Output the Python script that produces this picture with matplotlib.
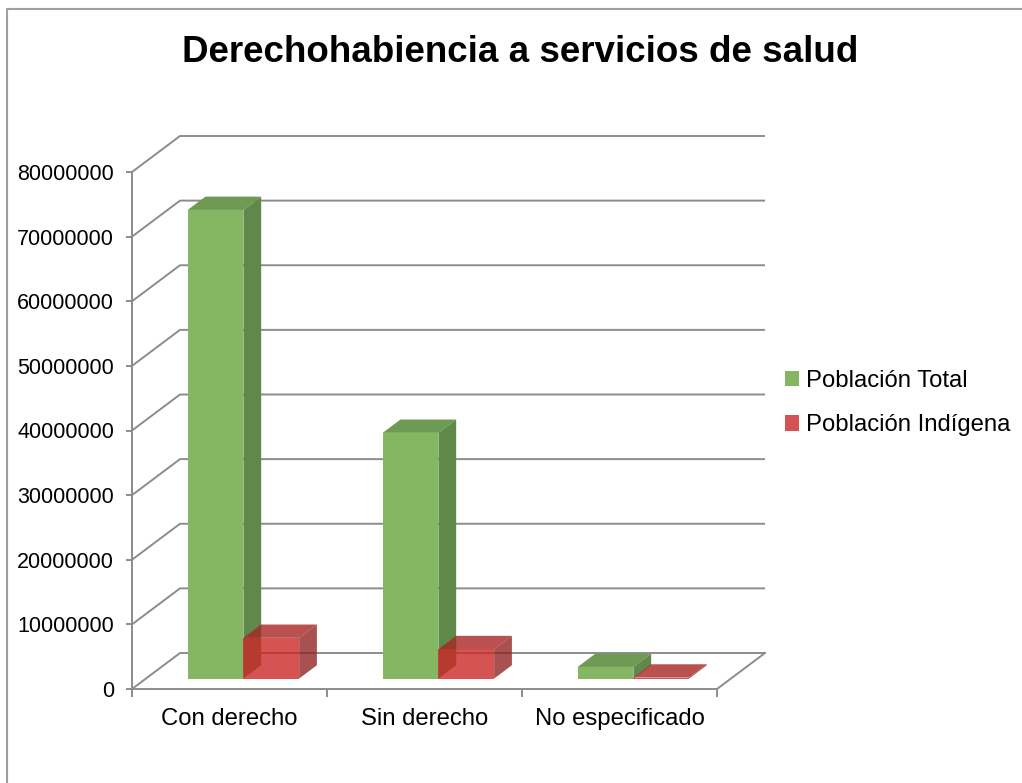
import matplotlib
matplotlib.use('Agg')
import matplotlib.pyplot as plt
from matplotlib.patches import Polygon, Patch
from matplotlib.lines import Line2D

plt.rcParams['font.family'] = ['Liberation Sans', 'DejaVu Sans']

# datos (censo 2010)
categorias = ['Con derecho', 'Sin derecho', 'No especificado']
series = ['Población Total', 'Población Indígena']
poblacion_total = [72514513, 38020372, 1801453]
poblacion_indigena = [6300000, 4550000, 150000]
y_ticks = [0, 10000000, 20000000, 30000000, 40000000,
           50000000, 60000000, 70000000, 80000000]
titulo = 'Derechohabiencia a servicios de salud'

# colores de cada cara (frente, arriba, lado)
verde = ['#85B763', '#6E9A53', '#60884A']
rojo = ['#CC2828', '#A82626', '#912626']
gris = '#8C8C8C'

W, H = 1022, 783
fig = plt.figure(figsize=(W / 100, H / 100), dpi=100)

# plano frontal de la caja 3d (pixeles)
izq, abajo, der, arriba = 132, 689, 717, 172
ax = fig.add_axes([izq / W, 1 - abajo / H, (der - izq) / W, (abajo - arriba) / H])
n = len(categorias)
ax.set_xlim(0, n)
ax.set_ylim(0, y_ticks[-1])

# desplazamiento de profundidad: 48 px a la derecha, 36 px hacia arriba
ddx = 48 / ((der - izq) / n)
ddy = 36 * y_ticks[-1] / (abajo - arriba)


def proj(x, y, d):
    return (x + d * ddx, y + d * ddy)


# lineas de cuadricula en pared izquierda y del fondo
for v in y_ticks:
    pts = [proj(0, v, 0), proj(0, v, 1), proj(n, v, 1)]
    ax.plot([p[0] for p in pts], [p[1] for p in pts], color=gris, lw=1.4,
            clip_on=False, zorder=1, solid_capstyle='butt')
# borde derecho del piso
pts = [proj(n, 0, 0), proj(n, 0, 1)]
ax.plot([p[0] for p in pts], [p[1] for p in pts], color=gris, lw=1.4,
        clip_on=False, zorder=1)

# barras 3d
ancho = 1 / 3.5
d0, d1 = 0.29, 0.66
for i in range(n):
    for s, (vals, cols, alfa) in enumerate([(poblacion_total, verde, 1.0),
                                             (poblacion_indigena, rojo, 0.8)]):
        v = vals[i]
        x0 = i + (0.75 + s) * ancho
        x1 = x0 + ancho
        caras = [
            ([(x0, v, d0), (x1, v, d0), (x1, v, d1), (x0, v, d1)], cols[1]),  # arriba
            ([(x1, 0, d0), (x1, 0, d1), (x1, v, d1), (x1, v, d0)], cols[2]),  # lado
            ([(x0, 0, d0), (x1, 0, d0), (x1, v, d0), (x0, v, d0)], cols[0]),  # frente
        ]
        for verts, c in caras:
            poly = Polygon([proj(*p) for p in verts], closed=True, facecolor=c,
                           edgecolor='none', alpha=alfa, clip_on=False, zorder=3)
            ax.add_patch(poly)

# ejes
for lado in ['top', 'right']:
    ax.spines[lado].set_visible(False)
for lado in ['left', 'bottom']:
    ax.spines[lado].set_color(gris)
    ax.spines[lado].set_linewidth(1.4)
ax.set_facecolor('none')
ax.set_yticks(y_ticks)
ax.set_yticklabels([str(t) for t in y_ticks])
ax.tick_params(axis='y', length=4, width=1.4, color=gris, pad=9, labelsize=15.5)
ax.set_xticks(range(n + 1))
ax.set_xticklabels([])
ax.tick_params(axis='x', which='major', length=6, width=1.4, color=gris)
ax.set_xticks([i + 0.5 for i in range(n)], minor=True)
ax.set_xticklabels(categorias, minor=True)
ax.tick_params(axis='x', which='minor', length=0, pad=14, labelsize=17.2)

# titulo
fig.text(520 / W, 1 - 53 / H, titulo, ha='center', va='center',
         fontsize=26.5, fontweight='bold')

# leyenda
handles = [Patch(facecolor=verde[0]), Patch(facecolor='#D65252')]
fig.legend(handles, series, loc='center left', bbox_to_anchor=(763 / W, 1 - 403 / H),
           frameon=False, fontsize=17.2, handlelength=0.6, handleheight=0.6,
           handletextpad=0.3, labelspacing=0.95)

# marco del grafico
fig.add_artist(Line2D([7 / W, 7 / W, 1], [0, 1 - 9 / H, 1 - 9 / H],
                      transform=fig.transFigure, color='#A0A0A0', lw=1.5))

fig.savefig('out.png', dpi=100, facecolor='white')
